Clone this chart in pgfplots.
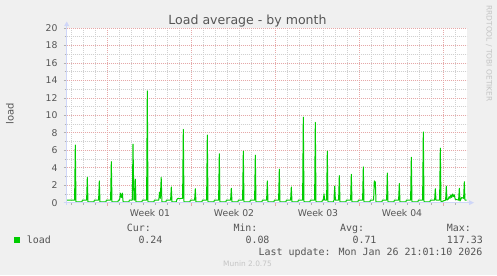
\documentclass[border=0pt]{standalone}
\usepackage{fontspec}
\setmainfont{DejaVu Sans}
\newfontfamily\monofont{DejaVu Sans Mono}
\usepackage{pgfplots}
\pgfplotsset{compat=1.18}
\definecolor{bg}{HTML}{F0F0F0}
\definecolor{fontc}{HTML}{555555}
\definecolor{axisc}{HTML}{CFD6F8}
\definecolor{mgrid}{HTML}{E6A8A8}
\definecolor{gridc}{HTML}{D0D0D0}
\definecolor{tickc}{HTML}{B0B0B0}
\definecolor{loadc}{HTML}{00CC00}
\definecolor{wm}{HTML}{C4C4C4}
\begin{document}
\begin{tikzpicture}[x=1bp,y=1bp]
\fill[bg] (0,0) rectangle (497,275);
\begin{axis}[
  scale only axis, width=400bp, height=174.7bp,
  at={(66.7bp,72.3bp)}, anchor=south west,
  xmin=0, xmax=400, ymin=0, ymax=20,
  axis background/.style={fill=white},
  axis line style={draw=none},
  xtick={41,125,209,293,377}, xticklabels={},
  minor xtick={5,17,29,53,65,77,89,101,113,137,149,161,173,185,197,221,233,245,257,269,281,305,317,329,341,353,365,389},
  ytick={0,2,...,20}, minor ytick={1,3,...,19},
  grid=both,
  major grid style={mgrid, dash pattern=on 1bp off 1bp, line width=0.7bp},
  minor grid style={gridc, dash pattern=on 1bp off 1bp, line width=0.7bp},
  tick align=outside, tick pos=left,
  major tick length=3bp, minor tick length=2bp,
  tick style={tickc, line width=0.7bp},
  major x tick style={mgrid},
  tick label style={font=\fontsize{9.3}{10}\selectfont, color=fontc},
  /pgf/number format/assume math mode=true,
  yticklabel style={anchor=east, inner sep=0pt, xshift=-6bp},
  extra x ticks={83.3,167.3,251.3,335.3},
  extra x tick labels={Week 01,Week 02,Week 03,Week 04},
  extra x tick style={major tick length=0pt, grid=none,
     xticklabel style={anchor=base, inner sep=0pt, yshift=-14bp}},
]
\addplot[loadc, line width=1bp, line join=round] coordinates {
(0,0.3) (7.9,0.3) (8.6,6.6) (9.3,0.1) (15.2,0.1) (15.7,0.3)
(19.9,0.3) (20.6,2.9) (21.3,0.1) (27.2,0.1) (27.7,0.3)
(31.9,0.3) (32.6,2.5) (33.3,0.1) (39.2,0.1) (39.7,0.3)
(43.9,0.3) (44.6,4.7) (45.3,0.1) (51.2,0.1) (51.7,0.3)
(52.9,0.3) (53.6,1.1) (54.6,0.6) (55.6,1.1) (56.4,0.1) (62.2,0.1) (62.7,0.3)
(65.6,0.3) (66.3,6.7) (67.2,0.3) (67.9,0.3) (68.6,2.7) (69.3,0.1) (75.2,0.1) (75.7,0.3)
(79.9,0.3) (80.6,12.8) (81.3,0.1) (87.2,0.1) (87.7,0.3)
(92.1,0.3) (92.8,1.2) (93.6,0.5) (94.5,2.9) (95.2,0.1) (99.2,0.1) (99.7,0.3)
(103.9,0.3) (104.6,1.8) (105.3,0.1) (109.5,0.1) (110.3,0.4) (111.5,0.5) (113,0.45) (115,0.5) (115.9,0.5) (116.6,8.4) (117.3,0.1) (123.2,0.1) (123.7,0.3)
(127.9,0.3) (128.6,1.6) (129.3,0.1) (135.2,0.1) (135.7,0.3)
(139.9,0.3) (140.6,7.75) (141.3,0.1) (147.2,0.1) (147.7,0.3)
(151.9,0.3) (152.6,5.6) (153.3,0.1) (159.2,0.1) (159.7,0.3)
(163.9,0.3) (164.6,1.65) (165.3,0.1) (171.2,0.1) (171.7,0.3)
(175.9,0.3) (176.6,5.9) (177.3,0.1) (183.2,0.1) (183.7,0.3)
(187.9,0.3) (188.6,5.45) (189.3,0.1) (195.2,0.1) (195.7,0.3)
(199.9,0.3) (200.6,2.5) (201.3,0.1) (207.2,0.1) (207.7,0.3)
(211.9,0.3) (212.6,3.85) (213.3,0.1) (219.2,0.1) (219.7,0.3)
(223.9,0.3) (224.6,1.8) (225.3,0.1) (231.2,0.1) (231.7,0.3)
(235.9,0.3) (236.6,9.8) (237.3,0.1) (243.2,0.1) (243.7,0.3)
(247.9,0.3) (248.6,9.2) (249.3,0.1) (255.2,0.1) (255.7,0.3) (256.6,0.3) (257.3,1.0) (258.0,0.3) (259.9,0.3) (260.6,5.9) (261.3,0.1) (266.6,0.1) (267.3,0.3) (268,1.9) (268.7,0.3) (271.9,0.3) (272.6,3.1) (273.3,0.1) (279.2,0.1) (279.7,0.3)
(283.9,0.3) (284.6,3.25) (285.3,0.1) (291.2,0.1) (291.7,0.3)
(295.9,0.3) (296.6,4.1) (297.3,0.1) (303.2,0.1) (303.7,0.3)
(306.9,0.3) (307.6,2.5) (308.1,2.3) (308.6,2.4) (309.3,0.1) (315.2,0.1) (315.7,0.3)
(319.9,0.3) (320.6,3.4) (321.3,0.1) (327.2,0.1) (327.7,0.3)
(331.9,0.3) (332.6,2.2) (333.3,0.1) (339.2,0.1) (339.7,0.3)
(343.9,0.3) (344.6,5.2) (345.3,0.1) (351.2,0.1) (351.7,0.3)
(355.9,0.3) (356.6,8.1) (357.3,0.1) (363.2,0.1) (363.7,0.3)
(367.9,0.3) (368.6,1.6) (369.3,0.3) (372.9,0.3) (373.6,6.25) (374.3,0.1) (378.9,0.3) (379.6,1.9) (380.3,0.3) (381.5,0.4) (382.5,0.7) (383.3,0.5) (384.2,0.9) (385,0.6) (386,1.0) (386.8,0.7) (387.6,0.9) (388.5,0.4) (391.9,0.3) (392.6,1.65) (393.3,0.2) (395,0.6) (396.9,0.5) (397.6,2.4) (398.3,0.3) (400,0.3)
};
\end{axis}
% axes with arrows
\draw[axisc, line width=1bp] (64,72.3) -- (470,72.3);
\fill[axisc] (469,69.8) -- (474,72.3) -- (469,74.8) -- cycle;
\draw[axisc, line width=1bp] (66.7,70) -- (66.7,250);
\fill[axisc] (64.2,249) -- (66.7,253.5) -- (69.2,249) -- cycle;
% title and labels
\node[font=\fontsize{12.6}{14}\selectfont, color=fontc, anchor=base, inner sep=0] at (247.5,251) {Load average - by month};
\node[font=\fontsize{10}{12}\selectfont, color=fontc, rotate=90, anchor=center, inner sep=0] at (10,161) {load};
\node[font=\fontsize{7.5}{9}\selectfont, color=wm, rotate=-90, anchor=center, inner sep=0] at (489,221.5) {RRDTOOL / TOBI OETIKER};
% legend
\fill[loadc] (14,32.3) rectangle (20,38.3);
\begin{scope}[every node/.style={font=\monofont\fontsize{10}{12}\selectfont, color=fontc, inner sep=0}]
\node[anchor=base west] at (26.7,31.7) {load};
\node[anchor=base west] at (126.7,43.5) {Cur:};
\node[anchor=base west] at (138.3,31.7) {0.24};
\node[anchor=base west] at (233.3,43.5) {Min:};
\node[anchor=base west] at (245.3,31.7) {0.08};
\node[anchor=base west] at (340,43.5) {Avg:};
\node[anchor=base west] at (352.3,31.7) {0.71};
\node[anchor=base west] at (446.7,43.5) {Max:};
\node[anchor=base west] at (446.7,31.7) {117.33};
\node[anchor=base east] at (482.7,20) {Last update: Mon Jan 26 21:01:10 2026};
\end{scope}
\node[font=\fontsize{7.45}{9}\selectfont, color=wm, anchor=base, inner sep=0] at (247.5,8.3) {Munin 2.0.75};
\pgfresetboundingbox
\useasboundingbox (0,0) rectangle (497,275);
\end{tikzpicture}
\end{document}
